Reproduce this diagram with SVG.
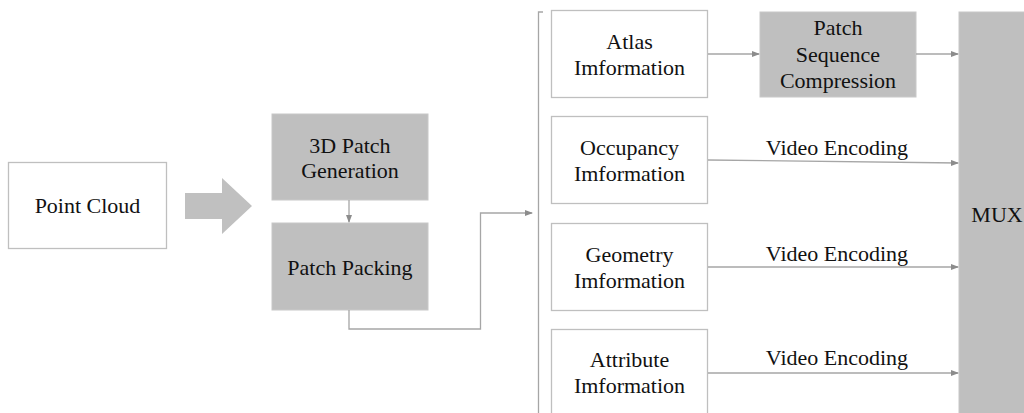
<svg xmlns="http://www.w3.org/2000/svg" width="1024" height="413" viewBox="0 0 1024 413">
<style>
.w{fill:#fff;stroke:#bfbfbf;stroke-width:1.3}
.g{fill:#bfbfbf;stroke:#c8c8c8;stroke-width:1}
.c{fill:none;stroke:#a6a6a6;stroke-width:1.3}
</style>
<defs>
<marker id="ah" markerWidth="8" markerHeight="6" refX="7" refY="3" orient="auto" markerUnits="userSpaceOnUse">
<path d="M0,0 L8,3 L0,6 Z" fill="#8c8c8c"/>
</marker>
</defs>
<rect width="1024" height="413" fill="#fff"/>
<g id="diagram" font-family="Liberation Serif" font-size="22" fill="#111" text-anchor="middle">
<g id="point-cloud"><rect class="w" x="8.5" y="162.5" width="158" height="86"/><text x="87.5" y="213">Point Cloud</text></g>
<g id="big-arrow"><path d="M185,193 L222,193 L222,178 L252,206 L222,234 L222,219 L185,219 Z" fill="#c0c0c0"/></g>
<g id="patch-gen"><rect class="g" x="272" y="114" width="156" height="86"/><text x="350" y="153">3D Patch</text><text x="350" y="178">Generation</text></g>
<g id="patch-packing"><rect class="g" x="272" y="223" width="156" height="87"/><text x="350" y="275">Patch Packing</text></g>
<g id="atlas"><rect class="w" x="551.5" y="10.5" width="156" height="87"/><text x="629.5" y="49">Atlas</text><text x="629.5" y="75">Imformation</text></g>
<g id="occupancy"><rect class="w" x="551.5" y="116.5" width="156" height="87"/><text x="629.5" y="155">Occupancy</text><text x="629.5" y="181">Imformation</text></g>
<g id="geometry"><rect class="w" x="551.5" y="223.5" width="156" height="87"/><text x="629.5" y="262">Geometry</text><text x="629.5" y="288">Imformation</text></g>
<g id="attribute"><rect class="w" x="551.5" y="329.5" width="156" height="88"/><text x="629.5" y="367">Attribute</text><text x="629.5" y="393">Imformation</text></g>
<g id="psc"><rect class="g" x="760" y="12" width="156" height="85"/><text x="838" y="35">Patch</text><text x="838" y="62">Sequence</text><text x="838" y="88">Compression</text></g>
<g id="mux"><rect class="g" x="959" y="12" width="80" height="410"/><text x="997" y="222">MUX</text></g>
<g id="connectors">
<line class="c" x1="349" y1="200" x2="349" y2="222" marker-end="url(#ah)"/>
<polyline class="c" points="349,310 349,329 480.5,329 480.5,213 532,213" marker-end="url(#ah)"/>
<polyline class="c" points="543,12 538.5,12 538.5,413"/>
<line class="c" x1="708" y1="54" x2="759" y2="54" marker-end="url(#ah)"/>
<line class="c" x1="916" y1="54" x2="958" y2="54" marker-end="url(#ah)"/>
<line class="c" x1="708" y1="160" x2="958" y2="163" marker-end="url(#ah)"/>
<line class="c" x1="708" y1="267" x2="958" y2="267" marker-end="url(#ah)"/>
<line class="c" x1="708" y1="373" x2="958" y2="373" marker-end="url(#ah)"/>
<text x="837" y="155">Video Encoding</text>
<text x="837" y="261">Video Encoding</text>
<text x="837" y="365">Video Encoding</text>
</g>
</g>
</svg>
